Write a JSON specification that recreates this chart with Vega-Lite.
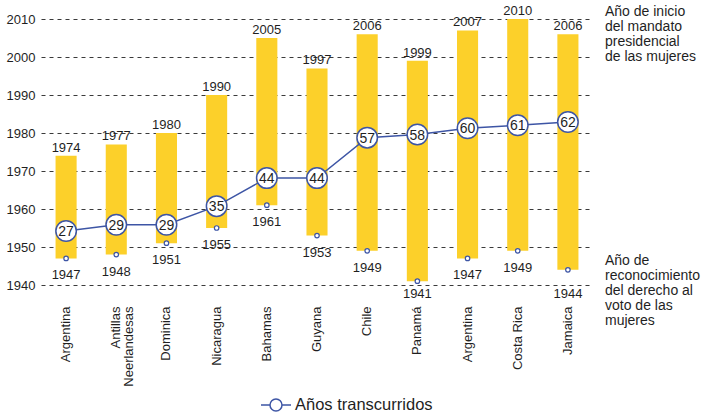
{
  "$schema": "https://vega.github.io/schema/vega-lite/v6.json",
  "width": 552,
  "height": 266,
  "autosize": {"type": "none"},
  "padding": {"left": 41, "top": 19, "right": 110, "bottom": 130},
  "config": {
    "font": "Liberation Sans",
    "view": {"stroke": null},
    "text": {"color": "#1f1f1f"},
    "axisX": {
      "title": null, "domain": false, "ticks": false, "grid": false,
      "labelAngle": -90, "labelAlign": "right", "labelBaseline": "middle",
      "labelPadding": 21, "labelFontSize": 13, "labelLineHeight": 13,
      "labelColor": "#1f1f1f"
    },
    "axisY": {
      "title": null, "domain": false, "ticks": false, "grid": true,
      "gridDash": [4, 4], "gridColor": "#3a3a3a", "gridWidth": 1.1,
      "labelPadding": 6, "labelFontSize": 13, "labelColor": "#1f1f1f"
    }
  },
  "data": {
    "values": [
      {"id": "01|Argentina", "voto": 1947, "mandato": 1974, "anos": 27},
      {"id": "02|Antillas|Neerlandesas", "voto": 1948, "mandato": 1977, "anos": 29},
      {"id": "03|Dominica", "voto": 1951, "mandato": 1980, "anos": 29},
      {"id": "04|Nicaragua", "voto": 1955, "mandato": 1990, "anos": 35},
      {"id": "05|Bahamas", "voto": 1961, "mandato": 2005, "anos": 44},
      {"id": "06|Guyana", "voto": 1953, "mandato": 1997, "anos": 44},
      {"id": "07|Chile", "voto": 1949, "mandato": 2006, "anos": 57},
      {"id": "08|Panamá", "voto": 1941, "mandato": 1999, "anos": 58},
      {"id": "09|Argentina", "voto": 1947, "mandato": 2007, "anos": 60},
      {"id": "10|Costa Rica", "voto": 1949, "mandato": 2010, "anos": 61},
      {"id": "11|Jamaica", "voto": 1944, "mandato": 2006, "anos": 62}
    ]
  },
  "layer": [
    {
      "layer": [
        {
          "mark": {"type": "bar", "color": "#FCD02A"},
          "encoding": {
            "x": {
              "field": "id", "type": "nominal", "sort": null,
              "scale": {"paddingInner": 0.58, "paddingOuter": 0.29},
              "axis": {"labelExpr": "slice(split(datum.value, '|'), 1)"}
            },
            "y": {
              "field": "voto", "type": "quantitative",
              "scale": {"domain": [1940, 2010], "nice": false, "zero": false},
              "axis": {"values": [1940, 1950, 1960, 1970, 1980, 1990, 2000, 2010], "format": "d"}
            },
            "y2": {"field": "mandato"}
          }
        },
        {
          "mark": {"type": "point", "shape": "circle", "filled": true, "fill": "white", "stroke": "#3D55A5", "strokeWidth": 1.2, "size": 20, "opacity": 1},
          "encoding": {
            "x": {"field": "id", "type": "nominal", "sort": null, "axis": {"labelExpr": "slice(split(datum.value, '|'), 1)"}},
            "y": {"field": "voto", "type": "quantitative", "scale": {"domain": [1940, 2010], "nice": false, "zero": false}, "axis": {"values": [1940, 1950, 1960, 1970, 1980, 1990, 2000, 2010], "format": "d"}}
          }
        },
        {
          "mark": {"type": "text", "fontSize": 13, "baseline": "alphabetic", "dy": -4},
          "encoding": {
            "x": {"field": "id", "type": "nominal", "sort": null, "axis": {"labelExpr": "slice(split(datum.value, '|'), 1)"}},
            "y": {"field": "mandato", "type": "quantitative", "scale": {"domain": [1940, 2010], "nice": false, "zero": false}, "axis": {"values": [1940, 1950, 1960, 1970, 1980, 1990, 2000, 2010], "format": "d"}},
            "text": {"field": "mandato", "type": "quantitative", "format": "d"}
          }
        },
        {
          "transform": [{"filter": "datum.voto >= 1945"}],
          "mark": {"type": "text", "fontSize": 13, "baseline": "middle", "dy": 17},
          "encoding": {
            "x": {"field": "id", "type": "nominal", "sort": null, "axis": {"labelExpr": "slice(split(datum.value, '|'), 1)"}},
            "y": {"field": "voto", "type": "quantitative", "scale": {"domain": [1940, 2010], "nice": false, "zero": false}, "axis": {"values": [1940, 1950, 1960, 1970, 1980, 1990, 2000, 2010], "format": "d"}},
            "text": {"field": "voto", "type": "quantitative", "format": "d"}
          }
        },
        {
          "transform": [{"filter": "datum.voto < 1945"}],
          "mark": {"type": "text", "fontSize": 13, "baseline": "middle"},
          "encoding": {
            "x": {"field": "id", "type": "nominal", "sort": null, "axis": {"labelExpr": "slice(split(datum.value, '|'), 1)"}},
            "y": {"datum": 1937.6, "type": "quantitative", "scale": {"domain": [1940, 2010], "nice": false, "zero": false}, "axis": {"values": [1940, 1950, 1960, 1970, 1980, 1990, 2000, 2010], "format": "d"}},
            "text": {"field": "voto", "type": "quantitative", "format": "d"}
          }
        },
        {
          "data": {"values": [{"nota": "Año de inicio|del mandato|presidencial|de las mujeres"}]},
          "mark": {"type": "text", "fontSize": 14, "align": "left", "baseline": "top", "lineHeight": 15, "x": 564},
          "encoding": {
            "y": {"datum": 2013.6, "type": "quantitative", "scale": {"domain": [1940, 2010], "nice": false, "zero": false}, "axis": {"values": [1940, 1950, 1960, 1970, 1980, 1990, 2000, 2010], "format": "d"}},
            "text": {"field": "nota", "type": "nominal"}
          },
          "transform": [{"calculate": "split(datum.nota, '|')", "as": "nota"}]
        },
        {
          "data": {"values": [{"nota": "Año de|reconocimiento|del derecho al|voto de las|mujeres"}]},
          "mark": {"type": "text", "fontSize": 14, "align": "left", "baseline": "top", "lineHeight": 15, "x": 564},
          "encoding": {
            "y": {"datum": 1948.2, "type": "quantitative", "scale": {"domain": [1940, 2010], "nice": false, "zero": false}, "axis": {"values": [1940, 1950, 1960, 1970, 1980, 1990, 2000, 2010], "format": "d"}},
            "text": {"field": "nota", "type": "nominal"}
          },
          "transform": [{"calculate": "split(datum.nota, '|')", "as": "nota"}]
        }
      ]
    },
    {
      "layer": [
        {
          "mark": {"type": "line", "strokeWidth": 1.5},
          "encoding": {
            "x": {"field": "id", "type": "nominal", "sort": null, "axis": {"labelExpr": "slice(split(datum.value, '|'), 1)"}},
            "y": {"field": "anos", "type": "quantitative", "scale": {"domain": [9.67, 95.1], "nice": false, "zero": false}, "axis": null},
            "color": {
              "datum": "Años transcurridos",
              "scale": {"range": ["#3D55A5"]},
              "legend": {
                "orient": "none", "legendX": 224, "legendY": 375, "title": null, "padding": 0,
                "symbolType": "M-1.5,0L-0.6,0M0.6,0L1.5,0M0.6,0A0.6,0.6,0,1,1,-0.6,0A0.6,0.6,0,1,1,0.6,0Z",
                "symbolSize": 400, "symbolFillColor": "white", "symbolStrokeColor": "#3D55A5",
                "symbolStrokeWidth": 1.5, "labelFontSize": 16.5, "labelOffset": 8,
                "labelColor": "#1f1f1f", "labelFont": "Liberation Sans"
              }
            }
          }
        },
        {
          "mark": {"type": "point", "shape": "circle", "filled": true, "fill": "white", "stroke": "#3D55A5", "strokeWidth": 1.5, "size": 420, "opacity": 1},
          "encoding": {
            "x": {"field": "id", "type": "nominal", "sort": null, "axis": {"labelExpr": "slice(split(datum.value, '|'), 1)"}},
            "y": {"field": "anos", "type": "quantitative", "scale": {"domain": [9.67, 95.1], "nice": false, "zero": false}, "axis": null}
          }
        },
        {
          "mark": {"type": "text", "fontSize": 14, "baseline": "middle", "dy": 1},
          "encoding": {
            "x": {"field": "id", "type": "nominal", "sort": null, "axis": {"labelExpr": "slice(split(datum.value, '|'), 1)"}},
            "y": {"field": "anos", "type": "quantitative", "scale": {"domain": [9.67, 95.1], "nice": false, "zero": false}, "axis": null},
            "text": {"field": "anos", "type": "quantitative"}
          }
        }
      ]
    }
  ],
  "resolve": {"scale": {"y": "independent"}}
}
